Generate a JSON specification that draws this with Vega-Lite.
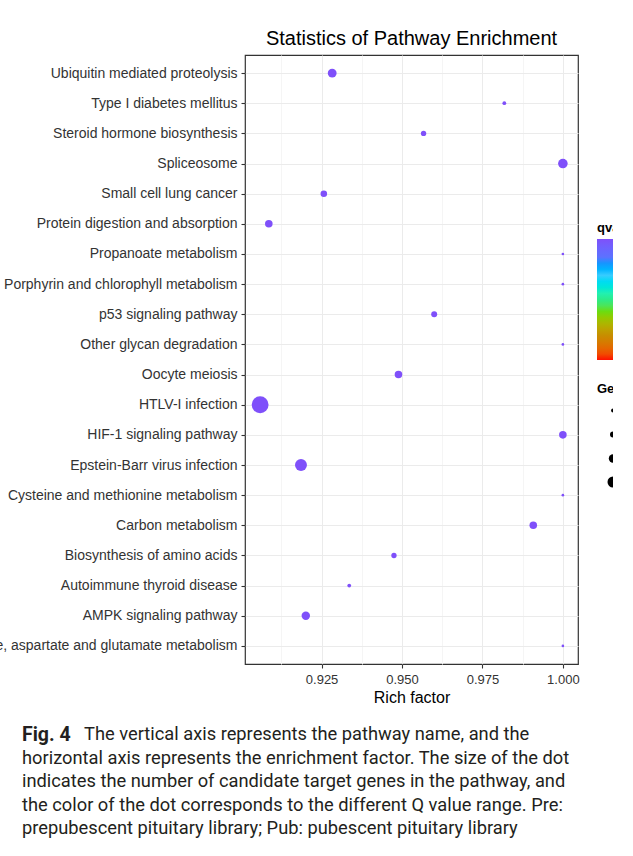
{
  "$schema": "https://vega.github.io/schema/vega-lite/v6.json",
  "autosize": {"type": "none"},
  "padding": {"left": 245, "top": 55, "right": 368, "bottom": 801},
  "background": "white",
  "bounds": "flush",
  "spacing": 71,
  "config": {
    "view": {"stroke": null},
    "font": "Liberation Sans",
    "axis": {
      "domain": false,
      "tickColor": "#333333",
      "tickSize": 4,
      "tickWidth": 1.1,
      "labelColor": "#333333",
      "labelFont": "Liberation Sans",
      "labelFontSize": 14,
      "titleFont": "Liberation Sans",
      "titleFontWeight": "normal",
      "titleColor": "#000000",
      "gridColor": "#EBEBEB",
      "gridWidth": 1
    }
  },
  "vconcat": [
    {
      "width": 333,
      "height": 609,
      "view": {"stroke": "#333333", "strokeWidth": 1.2},
      "title": {
        "text": "Statistics of Pathway Enrichment",
        "font": "Liberation Sans",
        "fontSize": 20,
        "fontWeight": "normal",
        "color": "#000000",
        "anchor": "middle",
        "baseline": "alphabetic",
        "offset": 10,
        "dy": 20
      },
      "data": {
        "values": [
          {"pathway": "Ubiquitin mediated proteolysis", "richFactor": 0.9283, "geneNumber": 11, "qvalue": 1},
          {"pathway": "Type I diabetes mellitus", "richFactor": 0.9818, "geneNumber": 2, "qvalue": 1},
          {"pathway": "Steroid hormone biosynthesis", "richFactor": 0.9567, "geneNumber": 4, "qvalue": 1},
          {"pathway": "Spliceosome", "richFactor": 1.0, "geneNumber": 13, "qvalue": 1},
          {"pathway": "Small cell lung cancer", "richFactor": 0.9257, "geneNumber": 6, "qvalue": 1},
          {"pathway": "Protein digestion and absorption", "richFactor": 0.9086, "geneNumber": 8, "qvalue": 1},
          {"pathway": "Propanoate metabolism", "richFactor": 1.0, "geneNumber": 1, "qvalue": 1},
          {"pathway": "Porphyrin and chlorophyll metabolism", "richFactor": 1.0, "geneNumber": 1, "qvalue": 1},
          {"pathway": "p53 signaling pathway", "richFactor": 0.96, "geneNumber": 5, "qvalue": 1},
          {"pathway": "Other glycan degradation", "richFactor": 1.0, "geneNumber": 1, "qvalue": 1},
          {"pathway": "Oocyte meiosis", "richFactor": 0.9489, "geneNumber": 8, "qvalue": 1},
          {"pathway": "HTLV-I infection", "richFactor": 0.9059, "geneNumber": 40, "qvalue": 1},
          {"pathway": "HIF-1 signaling pathway", "richFactor": 1.0, "geneNumber": 8, "qvalue": 1},
          {"pathway": "Epstein-Barr virus infection", "richFactor": 0.9186, "geneNumber": 20, "qvalue": 1},
          {"pathway": "Cysteine and methionine metabolism", "richFactor": 1.0, "geneNumber": 1, "qvalue": 1},
          {"pathway": "Carbon metabolism", "richFactor": 0.9908, "geneNumber": 8, "qvalue": 1},
          {"pathway": "Biosynthesis of amino acids", "richFactor": 0.9475, "geneNumber": 4, "qvalue": 1},
          {"pathway": "Autoimmune thyroid disease", "richFactor": 0.9336, "geneNumber": 2, "qvalue": 1},
          {"pathway": "AMPK signaling pathway", "richFactor": 0.9201, "geneNumber": 10, "qvalue": 1},
          {"pathway": "Alanine, aspartate and glutamate metabolism", "richFactor": 1.0, "geneNumber": 1, "qvalue": 1}
        ]
      },
      "mark": {"type": "circle", "opacity": 1},
      "encoding": {
        "x": {
          "field": "richFactor",
          "type": "quantitative",
          "title": "Rich factor",
          "scale": {"domain": [0.9012, 1.0047], "nice": false, "zero": false},
          "axis": {
            "values": [0.9125, 0.925, 0.9375, 0.95, 0.9625, 0.975, 0.9875, 1.0],
            "labelExpr": "round(datum.value * 1000) % 25 == 0 ? format(datum.value, '.3f') : ''",
            "tickOpacity": {"condition": {"test": "round(datum.value * 1000) % 25 != 0", "value": 0}, "value": 1},
            "gridColor": {"condition": {"test": "round(datum.value * 1000) % 25 != 0", "value": "#F5F5F5"}, "value": "#EBEBEB"},
            "labelPadding": 5,
            "labelFontSize": 13,
            "titleFontSize": 16,
            "titlePadding": 3,
            "grid": true
          }
        },
        "y": {
          "field": "pathway",
          "type": "nominal",
          "sort": null,
          "title": null,
          "scale": {"type": "point", "padding": 0.6},
          "axis": {"grid": true, "labelPadding": 4, "labelLimit": 400}
        },
        "size": {
          "field": "geneNumber",
          "type": "quantitative",
          "title": "Gene number",
          "scale": {"domain": [0, 40], "range": [0, 285], "zero": true},
          "legend": {
            "orient": "none",
            "legendX": 352,
            "legendY": 328,
            "values": [2, 5, 10, 17],
            "symbolType": "circle",
            "symbolFillColor": "#000000",
            "symbolStrokeWidth": 0,
            "symbolOffset": 10,
            "rowPadding": 12,
            "titleFontSize": 13,
            "titleFontWeight": "bold",
            "titleColor": "#000000",
            "titlePadding": 9,
            "labelFontSize": 11
          }
        },
        "color": {
          "field": "qvalue",
          "type": "quantitative",
          "title": "qvalue",
          "scale": {
            "domain": [0, 0.2, 0.4, 0.55, 0.7, 0.85, 1],
            "range": ["#FF1000", "#C88C00", "#6CDC10", "#22F0B0", "#38CCFF", "#5C72FF", "#7F50FA"]
          },
          "legend": {
            "orient": "none",
            "legendX": 352,
            "legendY": 167,
            "direction": "vertical",
            "gradientLength": 121,
            "gradientThickness": 17,
            "gradientStrokeWidth": 0,
            "titleFontSize": 13,
            "titleFontWeight": "bold",
            "titleColor": "#000000",
            "titlePadding": 4,
            "labelFontSize": 11
          }
        }
      }
    },
    {
      "width": 368,
      "height": 94,
      "view": {"stroke": null},
      "data": {
        "values": [
          {"line": 1, "part": "label", "text": "Fig. 4"},
          {"line": 1, "part": "first", "text": "The vertical axis represents the pathway name, and the"},
          {"line": 2, "part": "body", "text": "horizontal axis represents the enrichment factor. The size of the dot"},
          {"line": 3, "part": "body", "text": "indicates the number of candidate target genes in the pathway, and"},
          {"line": 4, "part": "body", "text": "the color of the dot corresponds to the different Q value range. Pre:"},
          {"line": 5, "part": "body", "text": "prepubescent pituitary library; Pub: pubescent pituitary library"}
        ]
      },
      "encoding": {
        "y": {"field": "line", "type": "ordinal", "axis": null, "scale": {"type": "point", "padding": 0}},
        "x": {"datum": 0, "type": "quantitative", "axis": null, "scale": {"domain": [0, 1]}},
        "text": {"field": "text"}
      },
      "layer": [
        {
          "transform": [{"filter": "datum.part == 'label'"}],
          "mark": {"type": "text", "align": "left", "baseline": "middle", "font": "Roboto", "fontSize": 19.5, "fontWeight": "bold", "color": "#231F20", "dx": -223}
        },
        {
          "transform": [{"filter": "datum.part == 'first'"}],
          "mark": {"type": "text", "align": "left", "baseline": "middle", "font": "Roboto", "fontSize": 18.3, "color": "#231F20", "dx": -161}
        },
        {
          "transform": [{"filter": "datum.part == 'body'"}],
          "mark": {"type": "text", "align": "left", "baseline": "middle", "font": "Roboto", "fontSize": 18.3, "color": "#231F20", "dx": -223}
        }
      ]
    }
  ]
}
